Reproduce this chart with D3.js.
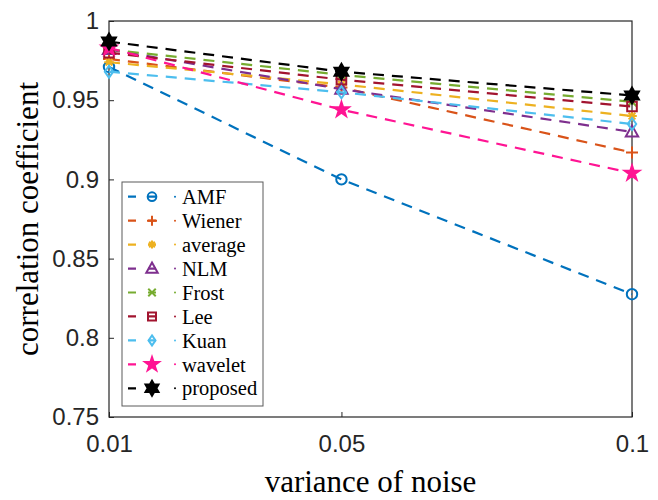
<!DOCTYPE html>
<meta charset="utf-8">
<style>
  body, html { margin:0; padding:0; background:#fff; }
  svg { display:block; }
  .serif { font-family: "Liberation Serif", "Times New Roman", Times, serif; }
  .sans { font-family: "Liberation Sans", Arial, Helvetica, sans-serif; }
</style>
<body>
<svg id="chart" width="658" height="500"></svg>
<script src="https://d3js.org/d3.v7.min.js"></script>
<script>

// noise variance levels
var variances = [0.01, 0.05, 0.1];
var xTicks = [0.01, 0.05, 0.1];
var yTicks = [0.75, 0.8, 0.85, 0.9, 0.95, 1];

// correlation coefficient per method
var amf      = [0.971, 0.900, 0.8275];
var wiener   = [0.976, 0.958, 0.917];
var average  = [0.974, 0.960, 0.940];
var nlm      = [0.982, 0.957, 0.930];
var frost    = [0.982, 0.966, 0.949];
var lee      = [0.980, 0.963, 0.946];
var kuan     = [0.968, 0.955, 0.935];
var wavelet  = [0.983, 0.944, 0.904];
var proposed = [0.987, 0.968, 0.953];

var names = ["AMF", "Wiener", "average", "NLM", "Frost", "Lee", "Kuan", "wavelet", "proposed"];
var values = [amf, wiener, average, nlm, frost, lee, kuan, wavelet, proposed];
var colors = ["#0072BD", "#D95319", "#EDB120", "#7E2F8E", "#77AC30", "#A2142F", "#4DBEEE", "#FF1493", "#000000"];
var markers = ["circle", "plus", "asterisk", "triangle", "cross", "square", "diamond", "pentagram", "hexagram"];

var series = names.map(function(n, i) {
    return { name: n, color: colors[i], marker: markers[i],
             pts: variances.map(function(v, j) { return { x: v, y: values[i][j] }; }) };
});

var svg = d3.select("#chart");
var margin = { top: 21, right: 26, bottom: 83, left: 109 },
    width = 658 - margin.left - margin.right,
    height = 500 - margin.top - margin.bottom;

var g = svg.append("g").attr("transform", "translate(" + margin.left + "," + margin.top + ")");

var x = d3.scaleLinear().domain([0.01, 0.1]).range([0, width]);
var y = d3.scaleLinear().domain([0.75, 1]).range([height, 0]);

var axisColor = "#262626";

// axes (MATLAB style, ticks inside)
var xAxis = d3.axisBottom(x).tickValues(xTicks).tickSizeInner(-5).tickSizeOuter(0).tickPadding(12)
    .tickFormat(function(d) { return String(d); });
var yAxis = d3.axisLeft(y).tickValues(yTicks).tickSizeInner(-5).tickSizeOuter(0).tickPadding(10)
    .tickFormat(function(d) { return String(d); });

var gx = g.append("g").attr("transform", "translate(0," + height + ")").call(xAxis);
var gy = g.append("g").call(yAxis);
[gx, gy].forEach(function(a) {
    a.attr("font-family", null).attr("font-size", null);
    a.select(".domain").remove();
    a.selectAll("line").attr("stroke", axisColor);
    a.selectAll("text").attr("class", "sans").attr("font-size", 24).attr("fill", axisColor);
});
gx.selectAll("text").attr("dy", "0.95em");

g.append("rect")
    .attr("width", width).attr("height", height)
    .attr("fill", "none").attr("stroke", axisColor).attr("stroke-width", 1.2);

function isFilled(m) { return m === "pentagram" || m === "hexagram"; }

function markerPath(type, s) {
    var r = s / 2;
    switch (type) {
        case "circle": return d3.symbol(d3.symbolCircle, Math.PI * r * r * 0.75)();
        case "plus": return "M" + (-r) + ",0H" + r + "M0," + (-r) + "V" + r;
        case "cross": var c = r * 0.75; return "M" + (-c) + "," + (-c) + "L" + c + "," + c + "M" + (-c) + "," + c + "L" + c + "," + (-c);
        case "asterisk":
            var a = r * 0.8, b = a * 0.7;
            return "M" + (-a) + ",0H" + a + "M" + (-b) + "," + (-b) + "L" + b + "," + b + "M" + (-b) + "," + b + "L" + b + "," + (-b) + "M0," + (-a) + "V" + a;
        case "triangle": return "M0," + (-r) + "L" + (r * 0.95) + "," + (r * 0.7) + "L" + (-r * 0.95) + "," + (r * 0.7) + "Z";
        case "square": var q = r * 0.8; return "M" + (-q) + "," + (-q) + "H" + q + "V" + q + "H" + (-q) + "Z";
        case "diamond": return "M0," + (-r) + "L" + (r * 0.7) + ",0L0," + r + "L" + (-r * 0.7) + ",0Z";
        case "pentagram": return d3.symbol(d3.symbolStar, s * s * 0.26)();
        case "hexagram":
            var pts = [];
            for (var k = 0; k < 12; k++) {
                var ang = -Math.PI / 2 + k * Math.PI / 6;
                var rr = k % 2 === 0 ? r : r * 0.58;
                pts.push([rr * Math.cos(ang), rr * Math.sin(ang)]);
            }
            return "M" + pts.map(function(p) { return p[0].toFixed(2) + "," + p[1].toFixed(2); }).join("L") + "Z";
    }
}

function drawMarker(sel, sizeFn) {
    sel.attr("d", function(d) { return markerPath(d.marker, sizeFn(d)); })
        .attr("fill", function(d) { return isFilled(d.marker) ? d.color : "none"; })
        .attr("stroke", function(d) { return d.color; })
        .attr("stroke-width", 2)
        .attr("stroke-linejoin", "miter");
}

var line = d3.line().x(function(d) { return x(d.x); }).y(function(d) { return y(d.y); });

var sg = g.selectAll(".series").data(series).enter().append("g").attr("class", "series");

sg.append("path")
    .attr("d", function(d) { return line(d.pts); })
    .attr("fill", "none")
    .attr("stroke", function(d) { return d.color; })
    .attr("stroke-width", 2.2)
    .attr("stroke-dasharray", "11,8");

sg.each(function(s) {
    d3.select(this).selectAll("path.mk")
        .data(s.pts.map(function(p) { return { x: p.x, y: p.y, color: s.color, marker: s.marker }; }))
        .enter().append("path").attr("class", "mk")
        .attr("transform", function(p) { return "translate(" + x(p.x) + "," + y(p.y) + ")"; })
        .call(drawMarker, function(d) { return isFilled(d.marker) ? 16 : (d.marker === "triangle" ? 13 : 12); });
});

// legend
var lg = svg.append("g").attr("transform", "translate(122,182)");
var rowH = 23.95;
lg.append("rect")
    .attr("width", 141).attr("height", 224)
    .attr("fill", "#fff").attr("stroke", "#5a5a5a").attr("stroke-width", 1);

var rows = lg.selectAll(".row").data(series).enter().append("g")
    .attr("transform", function(d, i) { return "translate(0," + (14.7 + i * rowH) + ")"; });

rows.append("line")
    .attr("x1", 6).attr("x2", 40).attr("y1", 0).attr("y2", 0)
    .attr("stroke", function(d) { return d.color; })
    .attr("stroke-width", 2.2)
    .attr("stroke-dasharray", "8,12");
rows.append("circle")
    .attr("cx", 53).attr("cy", 0).attr("r", 1)
    .attr("fill", function(d) { return d.color; });
rows.append("path")
    .attr("transform", "translate(30,0)")
    .call(drawMarker, function(d) { return isFilled(d.marker) ? 15 : (d.marker === "triangle" ? 12 : 10); });
rows.append("text")
    .attr("class", "serif")
    .attr("x", 60).attr("y", 0).attr("dy", "0.35em")
    .attr("font-size", 20.5)
    .attr("fill", "#000")
    .text(function(d) { return d.name; });

// axis titles
svg.append("text")
    .attr("class", "serif")
    .attr("transform", "translate(38," + (margin.top + height / 2) + ") rotate(-90)")
    .attr("text-anchor", "middle")
    .attr("font-size", 31)
    .attr("fill", "#000")
    .text("correlation coefficient");

svg.append("text")
    .attr("class", "serif")
    .attr("x", margin.left + width / 2).attr("y", 492)
    .attr("text-anchor", "middle")
    .attr("font-size", 31)
    .attr("fill", "#000")
    .text("variance of noise");

</script>
</body>
